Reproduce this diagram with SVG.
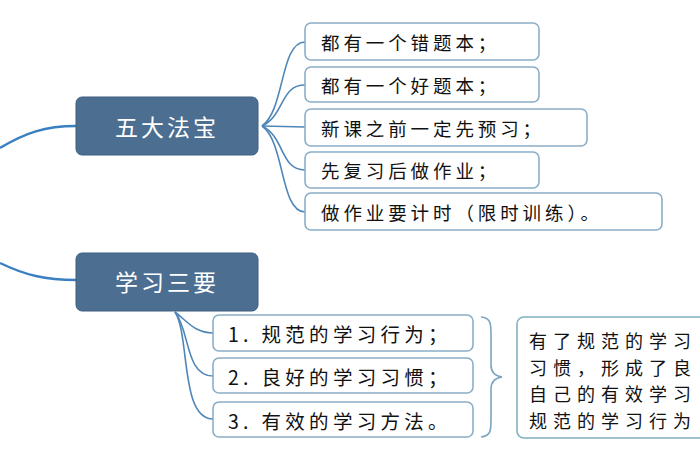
<svg xmlns="http://www.w3.org/2000/svg" width="700" height="470" viewBox="0 0 700 470">
<style>
.main{fill:#4b6e91;stroke:#3f5f7f;stroke-width:1}
.mt{font-family:"Noto Sans CJK SC","Noto Sans",sans-serif;font-size:23px;fill:#ffffff;letter-spacing:3px;text-anchor:middle;dominant-baseline:central}
.leaf{fill:#ffffff;stroke:#8aaec8;stroke-width:1.6}
.lt{font-family:"Noto Sans CJK SC","Noto Sans",sans-serif;font-size:18.5px;fill:#111111;letter-spacing:3.9px;dominant-baseline:central}
.lt2{font-family:"Noto Sans CJK SC","Noto Sans",sans-serif;font-size:19.5px;fill:#111111;letter-spacing:4.3px;dominant-baseline:central}
.rt{font-family:"Noto Sans CJK SC","Noto Sans",sans-serif;font-size:18px;fill:#111111;letter-spacing:6px;dominant-baseline:central}
.c{fill:none;stroke:#4f86b8;stroke-width:1.6}
.cm{fill:none;stroke:#3a7fc0;stroke-width:2.4}
</style>
<rect width="700" height="470" fill="#ffffff"/>
<g id="connectors">
<path class="cm" d="M0,148 C25,133 45,126 76,126"/>
<path class="cm" d="M0,263 C25,275 45,280 76,280"/>
<path class="c" d="M262,126 C285,110 280,42 305,42"/>
<path class="c" d="M262,126 C285,115 280,85 305,85"/>
<path class="c" d="M262,126 L305,127"/>
<path class="c" d="M262,126 C285,137 280,170 305,170"/>
<path class="c" d="M262,126 C285,142 280,212 305,212"/>
<path class="c" d="M175,312 C188,322 195,333 213,333"/>
<path class="c" d="M175,312 C190,330 185,376 213,376"/>
<path class="c" d="M175,312 C190,335 180,419 213,419"/>
<path d="M481,317 C492,318 491,325 491,340 L491,365 C491,373 495,376 502,377 C495,378 491,381 491,389 L491,414 C491,429 492,436 481,437" fill="none" stroke="#7aa6c0" stroke-width="1.6"/>
</g>
<g id="n_wudafabao">
<rect class="main" x="76" y="97" width="182" height="58" rx="6"/>
<text class="mt" x="167" y="126">五大法宝</text>
</g>
<g id="n_xuexisanyao">
<rect class="main" x="76" y="253" width="182" height="58" rx="6"/>
<text class="mt" x="167" y="281">学习三要</text>
</g>
<g id="l1">
<rect class="leaf" x="305" y="23" width="234" height="37" rx="6"/>
<text class="lt" x="321" y="42">都有一个错题本；</text>
</g>
<g id="l2">
<rect class="leaf" x="305" y="67" width="234" height="35" rx="6"/>
<text class="lt" x="321" y="85">都有一个好题本；</text>
</g>
<g id="l3">
<rect class="leaf" x="305" y="109" width="282" height="37" rx="6"/>
<text class="lt" x="321" y="128">新课之前一定先预习；</text>
</g>
<g id="l4">
<rect class="leaf" x="305" y="152" width="234" height="36" rx="6"/>
<text class="lt" x="321" y="170">先复习后做作业；</text>
</g>
<g id="l5">
<rect class="leaf" x="305" y="193" width="357" height="37" rx="6"/>
<text class="lt" x="321" y="212">做作业要计时（限时训练）。</text>
</g>
<g id="b1">
<rect class="leaf" x="213" y="315" width="260" height="36" rx="6"/>
<text class="lt2" x="228" y="333">1. 规范的学习行为；</text>
</g>
<g id="b2">
<rect class="leaf" x="213" y="358" width="260" height="35" rx="6"/>
<text class="lt2" x="228" y="376">2. 良好的学习习惯；</text>
</g>
<g id="b3">
<rect class="leaf" x="213" y="402" width="260" height="35" rx="6"/>
<text class="lt2" x="228" y="420">3. 有效的学习方法。</text>
</g>
<g id="summary">
<rect x="517" y="317" width="200" height="121" rx="7" fill="#ffffff" stroke="#7fb0c0" stroke-width="1.6"/>
<text class="rt" x="529" y="340">有了规范的学习</text>
<text class="rt" x="529" y="366.5">习惯，形成了良</text>
<text class="rt" x="529" y="393">自己的有效学习</text>
<text class="rt" x="529" y="419.5">规范的学习行为</text>
</g>
</svg>
